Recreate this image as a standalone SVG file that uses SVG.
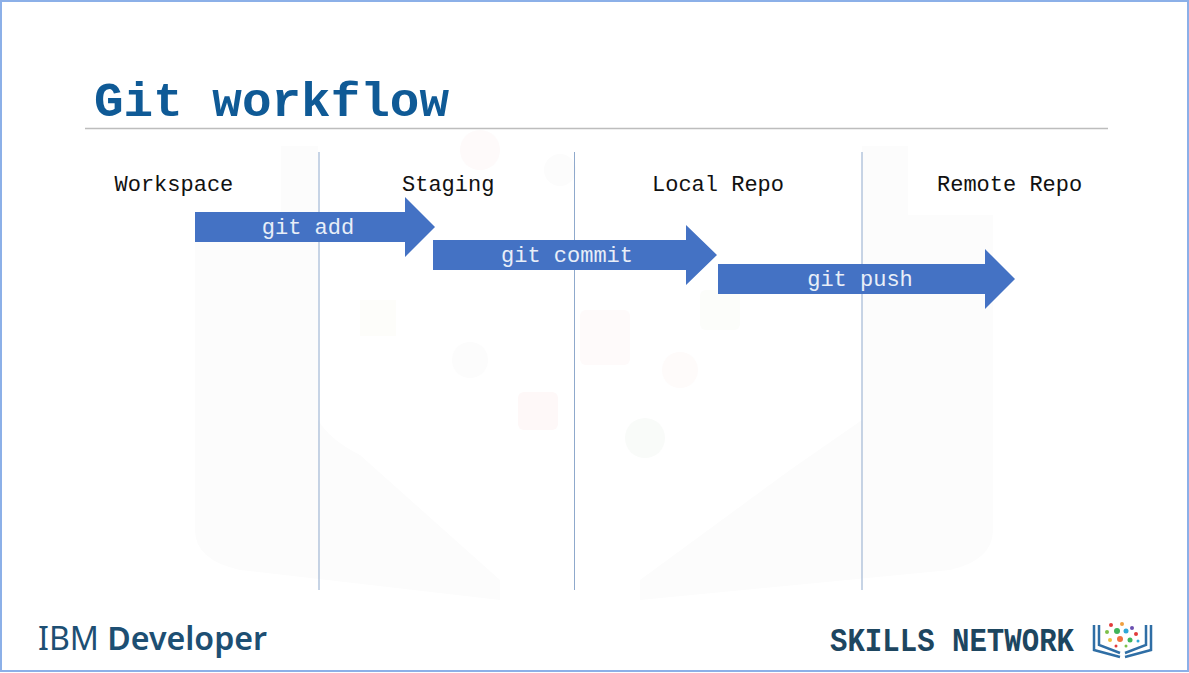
<svg xmlns="http://www.w3.org/2000/svg" width="1189" height="673" viewBox="0 0 1189 673">
<style>
.mono{font-family:"Liberation Mono","DejaVu Sans Mono",monospace}
.col{font-size:22px;fill:#111}
.cmd{font-size:22px;fill:#e8eef8;text-anchor:middle}
.div{stroke:#8fa9cc;stroke-width:1;fill:none}
.arrow{fill:#4472c4}
.wm{fill:#fcfcfc}
</style>
<rect x="0" y="0" width="1189" height="673" fill="#ffffff"/>
<g id="watermark">
<path class="wm" d="M195 215H281V146H318V420Q330 440 360 455L500 580V600L240 570Q195 560 195 530Z"/>
<path class="wm" d="M862 146H908V215H993V530Q993 560 950 570L640 600V580L790 470L862 420Z"/>
<rect x="518" y="392" width="40" height="38" rx="6" fill="#fef8f8"/>
<rect x="580" y="310" width="50" height="55" rx="6" fill="#fefafa"/>
<circle cx="645" cy="438" r="20" fill="#f9fbf9"/>
<circle cx="470" cy="360" r="18" fill="#fcfcfc"/>
<rect x="360" y="300" width="36" height="36" fill="#fdfdfa"/>
<rect x="700" y="290" width="40" height="40" rx="6" fill="#fcfdfa"/>
<circle cx="680" cy="370" r="18" fill="#fefbfa"/>
<circle cx="480" cy="150" r="20" fill="#fefafa"/>
<circle cx="560" cy="170" r="16" fill="#fcfcfc"/>
</g>
<g id="frame">
<rect x="1" y="1" width="1187" height="670" fill="none" stroke="#8cb0e8" stroke-width="2"/>
</g>
<g id="title">
<text class="mono" x="94" y="116" font-size="49" font-weight="700" fill="#0f5a96" textLength="355" lengthAdjust="spacingAndGlyphs">Git workflow</text>
<line x1="85" y1="128.500" x2="1108" y2="128.500" stroke="#bdbdbd" stroke-width="1.500"/>
</g>
<g id="dividers">
<line class="div" x1="319" y1="152" x2="319" y2="590"/>
<line class="div" x1="574.500" y1="152" x2="574.500" y2="590"/>
<line class="div" x1="862" y1="152" x2="862" y2="590"/>
</g>
<g id="workspace"><text class="mono col" x="114.500" y="191">Workspace</text></g>
<g id="staging"><text class="mono col" x="402" y="191">Staging</text></g>
<g id="local-repo"><text class="mono col" x="652" y="191">Local Repo</text></g>
<g id="remote-repo"><text class="mono col" x="937" y="191">Remote Repo</text></g>
<g id="connectors">
<g id="git-add">
<path class="arrow" d="M195 212H405V197L435 227L405 257V242H195Z"/>
<text class="mono cmd" x="308" y="234">git add</text>
</g>
<g id="git-commit">
<path class="arrow" d="M433 240H686V225L717 255L686 285V270H433Z"/>
<text class="mono cmd" x="567" y="262">git commit</text>
</g>
<g id="git-push">
<path class="arrow" d="M718 264H985V249L1015 279L985 309V294H718Z"/>
<text class="mono cmd" x="860" y="286">git push</text>
</g>
</g>
<g id="ibm-developer">
<text x="38" y="650" font-family="'Noto Sans','Liberation Sans',sans-serif" font-size="32" fill="#1d4f73" textLength="229" lengthAdjust="spacingAndGlyphs"><tspan>IBM </tspan><tspan font-weight="600">Developer</tspan></text>
</g>
<g id="skills-network">
<text x="830" y="651" font-family="'Liberation Mono','DejaVu Sans Mono',monospace" font-weight="700" font-size="33" fill="#1d4660" textLength="244" lengthAdjust="spacingAndGlyphs">SKILLS NETWORK</text>
<path d="M1094 625V650L1120 657M1099 625V645L1120 653M1151 625V650L1125 657M1146 625V645L1125 653" fill="none" stroke="#2f6ea5" stroke-width="2.500"/>
<circle cx="1111" cy="625" r="2" fill="#e23b3b"/><circle cx="1122" cy="624" r="2" fill="#f0a040"/><circle cx="1132" cy="628" r="2" fill="#6a4fb0"/>
<circle cx="1107" cy="632" r="2" fill="#7cc04a"/><circle cx="1117" cy="631" r="3" fill="#3fb55a"/><circle cx="1126" cy="631" r="2.500" fill="#2fa8d8"/><circle cx="1136" cy="634" r="2" fill="#e23b3b"/>
<circle cx="1110" cy="640" r="2" fill="#f0c040"/><circle cx="1120" cy="639" r="3" fill="#f07040"/><circle cx="1130" cy="640" r="2.500" fill="#3fb55a"/><circle cx="1138" cy="641" r="1.500" fill="#2fa8d8"/>
<circle cx="1116" cy="646" r="1.500" fill="#e23b3b"/><circle cx="1126" cy="646" r="1.500" fill="#7cc04a"/>
</g>
</svg>
